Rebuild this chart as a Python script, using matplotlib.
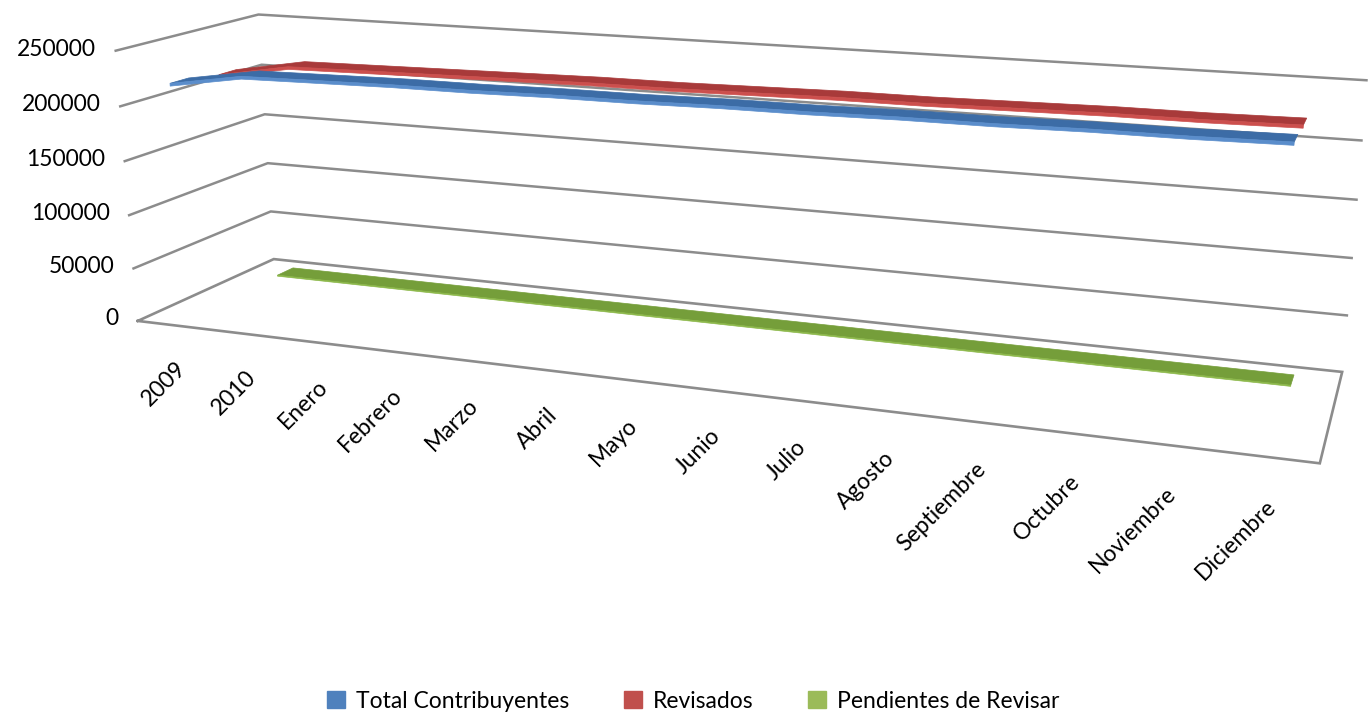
import numpy as np
import matplotlib
matplotlib.use("Agg")
import matplotlib.pyplot as plt
from matplotlib.patches import Patch
from mpl_toolkits.mplot3d import proj3d

plt.rcParams['font.family'] = ['Lato', 'DejaVu Sans']

categories = ['2009', '2010', 'Enero', 'Febrero', 'Marzo', 'Abril', 'Mayo', 'Junio',
              'Julio', 'Agosto', 'Septiembre', 'Octubre', 'Noviembre', 'Diciembre']
total = [219000, 230000, 231000, 232000, 232000, 233000, 233000,
         234000, 234000, 235000, 235000, 236000, 236000, 237000]
revisados = [214000, 226000, 227000, 228000, 229000, 230000, 230000,
             231000, 232000, 232000, 233000, 234000, 234000, 235000]
pendientes = [500, 500, 500, 500, 500, 500, 500,
              500, 500, 500, 500, 500, 500, 500]
z_ticks = [0, 50000, 100000, 150000, 200000, 250000]

W, H = 1371, 723
N = len(categories)
ZMAX = z_ticks[-1]
GRID = '#8c8c8c'
FS = 16.5


def fit_camera(world, pixels):
    """3x4 projective camera from (x, depth, z) -> pixel pairs, plain DLT"""
    rows = []
    for (x, y, z), (u, v) in zip(world, pixels):
        p = [x / N, y, z / ZMAX, 1]
        u, v = u / 1000, v / 1000
        rows.append(p + [0, 0, 0, 0] + [-u * c for c in p])
        rows.append([0, 0, 0, 0] + p + [-v * c for c in p])
    P = np.linalg.svd(np.array(rows))[2][-1].reshape(3, 4)
    P = np.diag([1000, 1000, 1]) @ P @ np.diag([1 / N, 1, 1 / ZMAX, 1])
    return P if P[2, 3] > 0 else -P


# where the box of the original excel chart sits in the picture
front_left = [(138, 321), (133, 268), (129, 215), (125, 161), (120, 107), (116, 51)]
back_left = [(274, 259), (271, 212), (267, 163), (265, 114), (262, 65), (258, 14)]
back_right = [(1342, 372), (1347, 316), (1352, 258), (1356, 199), (1361, 141), (1367, 80)]

world, pix = [], []
for z, a, b, c in zip(z_ticks, front_left, back_left, back_right):
    world += [(0, 0, z), (0, 1, z), (N, 1, z)]
    pix += [a, b, c]
world.append((N, 0, 0))
pix.append((1320, 463))

P = fit_camera(world, pix)
M = np.vstack([P[0], P[1], [0, 1, 0, 0], P[2]])


def project(xs, ys, zs):
    u, v, _ = proj3d.proj_transform(np.asarray(xs, float), np.asarray(ys, float),
                                    np.asarray(zs, float), M)
    return u, v


fig = plt.figure(figsize=(W / 100, H / 100), dpi=100)
ax = fig.add_axes([0, 0, 1, 1])
ax.set_xlim(0, W)
ax.set_ylim(H, 0)
ax.axis('off')

# walls and floor
for z in z_ticks[1:]:
    ax.plot(*project([0, 0, N], [0, 1, 1], [z, z, z]), color=GRID, lw=1.8, zorder=1)
ax.plot(*project([0, N, N, 0, 0], [0, 0, 1, 1, 0], [0, 0, 0, 0, 0]), color=GRID, lw=1.9, zorder=1,
        solid_joinstyle='miter')


def ribbon(values, depth, top, side, zorder, thick=2500, half=0.0625):
    x = np.arange(N) + 0.5
    v = np.array(values, dtype=float)
    d0, d1 = depth - half, depth + half
    xx = np.r_[x, x[::-1]]
    vv = np.r_[v, v[::-1]]
    ax.fill(*project(xx, np.r_[np.full(N, d0), np.full(N, d1)], vv),
            facecolor=top, edgecolor=top, lw=0.5, zorder=zorder)
    ax.fill(*project(xx, np.full(2 * N, d0), np.r_[v, v[::-1] - thick]),
            facecolor=side, edgecolor=side, lw=0.5, zorder=zorder)


ribbon(pendientes, 5 / 6, '#759e3a', '#8cb84a', 2, thick=1000)
ribbon(revisados, 1 / 2, '#a83a3a', '#cc4f4d', 3)
ribbon(total, 1 / 6, '#3c6ca6', '#5a8dcb', 4)

# tick labels
for z in z_ticks:
    u, v = project([-0.28], [0], [z])
    ax.text(u[0], v[0], str(z), ha='right', va='center', fontsize=FS)
for i, name in enumerate(categories):
    u, v = project([i + 0.5], [0], [-31000])
    ax.text(u[0], v[0], name, rotation=45, ha='right', va='top',
            rotation_mode='anchor', fontsize=FS)

handles = [Patch(color='#4f81bd', label='Total Contribuyentes'),
           Patch(color='#c0504d', label='Revisados'),
           Patch(color='#9bbb59', label='Pendientes de Revisar')]
fig.legend(handles=handles, loc='center', bbox_to_anchor=(693 / W, 1 - 701 / H), ncol=3,
           frameon=False, fontsize=FS, handlelength=0.8, handleheight=0.8,
           handletextpad=0.45, columnspacing=2.4, borderpad=0)

fig.savefig('out.png', dpi=100)
